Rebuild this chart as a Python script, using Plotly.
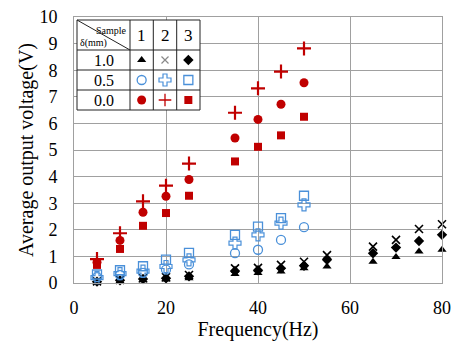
import plotly.graph_objects as go

# ---------------- data ----------------
freq_all = [5, 10, 15, 20, 25, 35, 40, 45, 50, 55, 65, 70, 75, 80]
freq_mid = [5, 10, 15, 20, 25, 35, 40, 45, 50]

# delta = 1.0 mm
d10_s1 = [0.05, 0.07, 0.10, 0.13, 0.18, 0.34, 0.38, 0.43, 0.55, 0.62, 0.80, 0.98, 1.18, 1.25]
d10_s2 = [0.06, 0.12, 0.18, 0.22, 0.30, 0.55, 0.57, 0.68, 0.80, 1.05, 1.37, 1.62, 2.03, 2.21]
d10_s3 = [0.05, 0.10, 0.15, 0.18, 0.25, 0.45, 0.48, 0.55, 0.65, 0.87, 1.12, 1.33, 1.58, 1.81]
# delta = 0.5 mm
d05_s1 = [0.22, 0.30, 0.38, 0.50, 0.70, 1.12, 1.25, 1.62, 2.10]
d05_s2 = [0.20, 0.35, 0.45, 0.62, 0.87, 1.50, 1.81, 2.25, 2.94]
d05_s3 = [0.32, 0.48, 0.63, 0.88, 1.13, 1.81, 2.12, 2.44, 3.28]
# delta = 0.0 mm
d00_s1 = [0.78, 1.60, 2.66, 3.26, 3.89, 5.45, 6.15, 6.72, 7.53]
d00_s2 = [0.90, 1.87, 3.07, 3.66, 4.49, 6.40, 7.32, 7.95, 8.82]
d00_s3 = [0.68, 1.28, 2.15, 2.63, 3.28, 4.57, 5.12, 5.55, 6.25]

samples = ["1", "2", "3"]
deltas = ["1.0", "0.5", "0.0"]
x_ticks = [0, 20, 40, 60, 80]
y_ticks = list(range(0, 11))

RED = "#C00000"
BLUE = "#4A90D9"
BLACK = "#000000"

styles = {
    ("1.0", "1"): dict(symbol="triangle-up", size=8, color=BLACK, line=dict(width=0)),
    ("1.0", "2"): dict(symbol="x-thin", size=8, color=BLACK, line=dict(width=1.6, color=BLACK)),
    ("1.0", "3"): dict(symbol="diamond", size=8, color=BLACK, line=dict(width=0)),
    ("0.5", "1"): dict(symbol="circle-open", size=9, color=BLUE, line=dict(width=1.3, color=BLUE)),
    ("0.5", "2"): dict(symbol="cross-open", size=10, color=BLUE, line=dict(width=1.2, color=BLUE)),
    ("0.5", "3"): dict(symbol="square-open", size=9, color=BLUE, line=dict(width=1.3, color=BLUE)),
    ("0.0", "1"): dict(symbol="circle", size=9, color=RED, line=dict(width=0)),
    ("0.0", "2"): dict(symbol="cross-thin", size=10, color=RED, line=dict(width=2.2, color=RED)),
    ("0.0", "3"): dict(symbol="square", size=8, color=RED, line=dict(width=0)),
}

series = [
    ("1.0", "1", freq_all, d10_s1),
    ("1.0", "2", freq_all, d10_s2),
    ("1.0", "3", freq_all, d10_s3),
    ("0.5", "1", freq_mid, d05_s1),
    ("0.5", "2", freq_mid, d05_s2),
    ("0.5", "3", freq_mid, d05_s3),
    ("0.0", "1", freq_mid, d00_s1),
    ("0.0", "2", freq_mid, d00_s2),
    ("0.0", "3", freq_mid, d00_s3),
]

fig = go.Figure()
for d, s, xs, ys in series:
    fig.add_trace(go.Scatter(x=xs, y=ys, mode="markers", marker=styles[(d, s)],
                             cliponaxis=False, showlegend=False, hoverinfo="skip"))

# ---------------- layout geometry (pixels) ----------------
W, H = 452, 342
L, R, T, B = 74, 442, 17, 283
XMAX, YMAX = 80, 10


def dx(px):
    return (px - L) / (R - L) * XMAX


def dy(py):
    return (B - py) / (B - T) * YMAX


tx = [77, 130, 153.3, 176.7, 200]
ty = [20, 50, 70, 90, 110]

shapes = []
shapes.append(dict(type="rect", xref="x", yref="y", x0=dx(tx[0]), x1=dx(tx[-1]),
                   y0=dy(ty[0]), y1=dy(ty[-1]), fillcolor="white",
                   line=dict(color="#222", width=1), layer="between"))
for xv in tx[1:-1]:
    shapes.append(dict(type="line", xref="x", yref="y", x0=dx(xv), x1=dx(xv),
                       y0=dy(ty[0]), y1=dy(ty[-1]), line=dict(color="#222", width=1), layer="between"))
for yv in ty[1:-1]:
    shapes.append(dict(type="line", xref="x", yref="y", x0=dx(tx[0]), x1=dx(tx[-1]),
                       y0=dy(yv), y1=dy(yv), line=dict(color="#222", width=1), layer="between"))
shapes.append(dict(type="line", xref="x", yref="y", x0=dx(tx[0]), x1=dx(tx[1]),
                   y0=dy(ty[0]), y1=dy(ty[1]), line=dict(color="#222", width=1), layer="between"))

annotations = []
SERIF = "Liberation Serif"
col_c = [(tx[i] + tx[i + 1]) / 2 for i in range(1, 4)]
row_c = [(ty[i] + ty[i + 1]) / 2 for i in range(1, 4)]
for c, s in zip(col_c, samples):
    annotations.append(dict(x=dx(c), y=dy((ty[0] + ty[1]) / 2), text=s, showarrow=False,
                            font=dict(family=SERIF, size=17, color="black")))
for r, d in zip(row_c, deltas):
    annotations.append(dict(x=dx((tx[0] + tx[1]) / 2), y=dy(r), text=d, showarrow=False,
                            font=dict(family=SERIF, size=16, color="black")))
annotations.append(dict(x=dx(129), y=dy(30), text="Sample", showarrow=False, xanchor="right",
                        font=dict(family=SERIF, size=10, color="black")))
annotations.append(dict(x=dx(78), y=dy(43), text="δ(mm)", showarrow=False, xanchor="left",
                        font=dict(family=SERIF, size=10, color="black")))

for ri, d in enumerate(deltas):
    for ci, s in enumerate(samples):
        st = dict(styles[(d, s)])
        if (d, s) == ("1.0", "2"):
            st = dict(symbol="x-thin", size=7, color="#888", line=dict(width=1.2, color="#888"))
        if (d, s) == ("0.0", "2"):
            st = dict(symbol="cross-thin", size=9, color=RED, line=dict(width=1.3, color=RED))
        fig.add_trace(go.Scatter(x=[dx(col_c[ci])], y=[dy(row_c[ri])], mode="markers",
                                 marker=st, showlegend=False, hoverinfo="skip", cliponaxis=False))

GRID = "#A0A0A0"
fig.update_layout(
    width=W, height=H,
    margin=dict(l=L, r=W - R, t=T, b=H - B, autoexpand=False),
    paper_bgcolor="white", plot_bgcolor="white",
    font=dict(family=SERIF, color="black"),
    shapes=shapes, annotations=annotations,
    xaxis=dict(range=[0, XMAX], tickvals=x_ticks, showgrid=True, gridcolor=GRID, gridwidth=1,
               showline=True, linecolor=GRID, linewidth=1, mirror=True, zeroline=False,
               automargin=False,
               ticks="", tickfont=dict(family=SERIF, size=18), ticklabelstandoff=8,
               title=dict(text="Frequency(Hz)", font=dict(family=SERIF, size=20), standoff=1)),
    yaxis=dict(range=[0, YMAX], tickvals=y_ticks, showgrid=True, gridcolor=GRID, gridwidth=1,
               showline=True, linecolor=GRID, linewidth=1, mirror=True, zeroline=False,
               automargin=False,
               ticks="", tickfont=dict(family=SERIF, size=18), ticklabelstandoff=12,
               title=dict(text="Average output voltage(V)", font=dict(family=SERIF, size=20), standoff=0)),
)

fig.write_html("out.html", config={"displayModeBar": False},
               post_script="document.body.style.margin='0';document.body.style.padding='0';")
